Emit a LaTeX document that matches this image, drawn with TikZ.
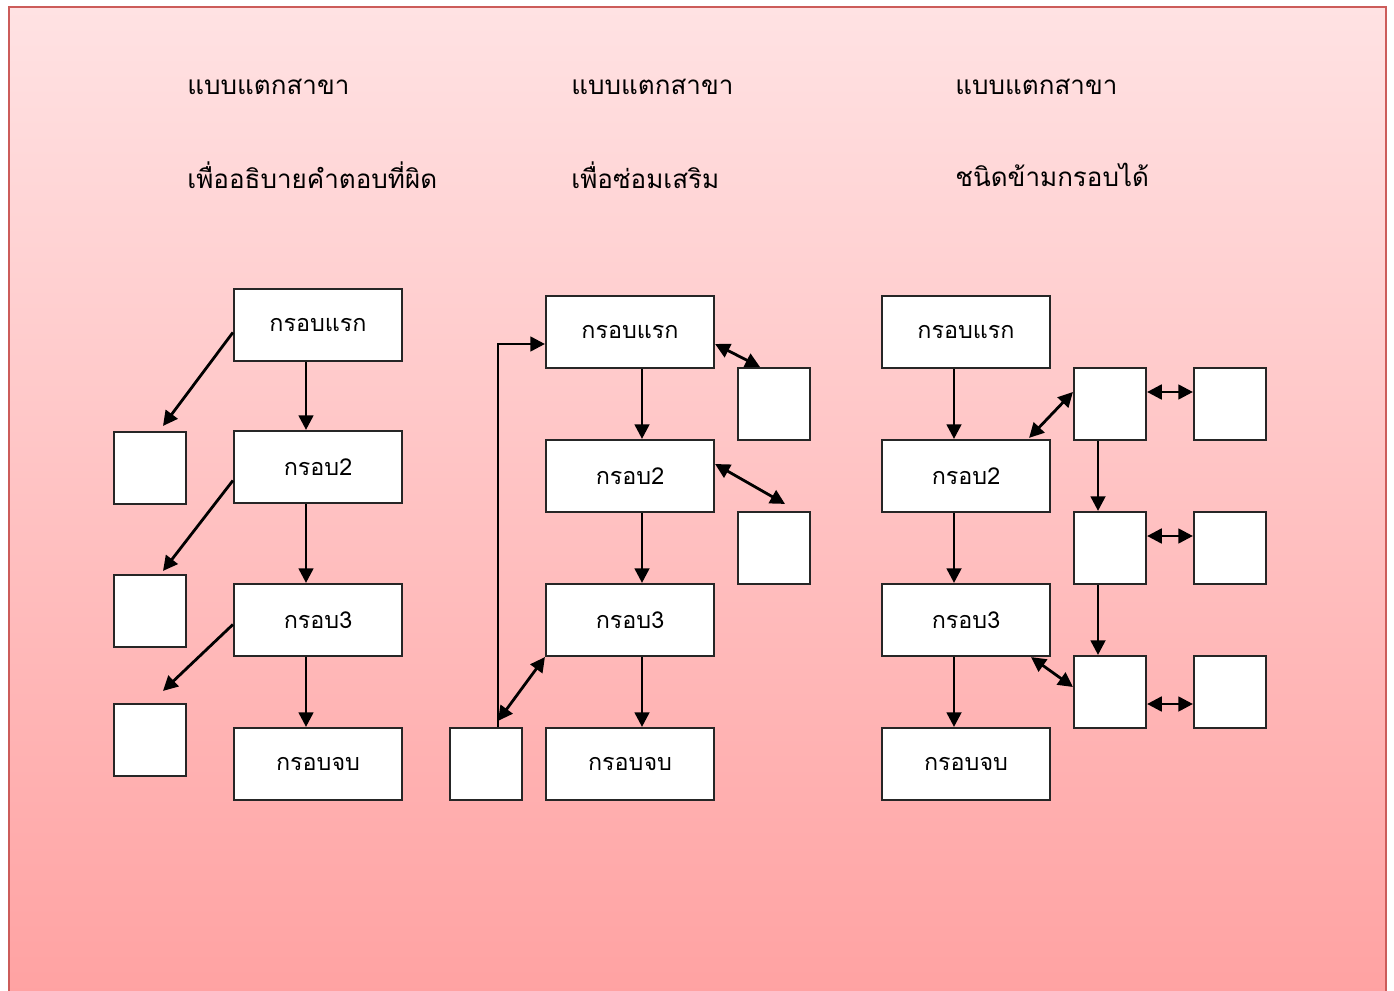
\documentclass[tikz,border=0pt]{standalone}
\usepackage{fontspec}
\newfontfamily\thaifont[Script=Thai]{Loma}
\usetikzlibrary{positioning,calc,arrows.meta}
\definecolor{bgtop}{RGB}{255,226,227}
\definecolor{bgbot}{RGB}{255,162,162}
\definecolor{framered}{RGB}{204,92,90}
\tikzset{
bigbox/.style={draw=black!85,line width=1.6pt,fill=white,minimum width=126pt,minimum height=54pt,inner sep=0pt,font=\thaifont\fontsize{17.5}{20}\selectfont},
smallbox/.style={draw=black!85,line width=1.6pt,fill=white,minimum width=54pt,minimum height=54pt,inner sep=0pt},
title/.style={anchor=west,inner sep=0pt,font=\thaifont\fontsize{19.5}{23}\selectfont}
}
\begin{document}
\begin{tikzpicture}[x=0.75pt,y=-0.75pt,>={Triangle[length=11pt,width=11pt]},line width=2.1pt]
\useasboundingbox (0,0) rectangle (1394,991);
\shade[top color=bgtop,bottom color=bgbot] (9,7) rectangle (1386,995);
\draw[framered,line width=1.2pt] (9,995) -- (9,7) -- (1386,7) -- (1386,995);
\foreach \x/\s [count=\i] in {186/เพื่ออธิบายคำตอบที่ผิด,570/เพื่อซ่อมเสริม,954/ชนิดข้ามกรอบได้}
{
\node[title] (head\i) at (\x,87) {แบบแตกสาขา};
\node[title] (sub\i) at (\x,175) {\s};
}
\foreach \y/\t [count=\i] in {325/กรอบแรก,467/กรอบ2,620/กรอบ3,764/กรอบจบ}
\node[bigbox] (a\i) at (318,\y) {\t};
\foreach \col/\x in {b/630,c/966}
\foreach \y/\t [count=\i] in {332/กรอบแรก,476/กรอบ2,620/กรอบ3,764/กรอบจบ}
\node[bigbox] (\col\i) at (\x,\y) {\t};
\foreach \y [count=\i] in {468,611,740}
\node[smallbox] (sa\i) at (150,\y) {};
\node[smallbox] (sb1) at (774,404) {};
\node[smallbox] (sb2) at (774,548) {};
\node[smallbox] (sb3) at (486,764) {};
\foreach \y [count=\i] in {404,548,692}
{
\node[smallbox] (m\i) at (1110,\y) {};
\node[smallbox] (n\i) at (1230,\y) {};
}
\foreach \col/\d in {a/-12,b/12,c/-12}
\foreach \i/\j in {1/2,2/3,3/4}
\draw[->] ($(\col\i.south)+(\d,0)$) -- ($(\col\j.north)+(\d,0)$);
\draw[->] (a1.185) -- ($(sa1.north)+(13,-5)$);
\draw[->] (a2.189) -- ($(sa2.north)+(13,-3)$);
\draw[->] (a3.183) -- ($(sa3.north)+(13,-12)$);
\draw[->] ($(sb3.north)+(12,0)$) |- ($(b1.west)+(0,12)$);
\draw[<->] ($(b1.east)+(0,12)$) -- ($(sb1.north)+(-14,0)$);
\draw[<->] ($(b2.east)+(0,-12)$) -- ($(sb2.north)+(11,-7)$);
\draw[<->] (b3.south west) -- ($(sb3.north)+(12,-6)$);
\draw[->] ($(m1.south)+(-12,0)$) -- ($(m2.north)+(-12,0)$);
\draw[->] ($(m2.south)+(-12,0)$) -- ($(m3.north)+(-12,0)$);
\foreach \i/\d in {1/-12,2/-12,3/12}
\draw[<->] ($(m\i.east)+(0,\d)$) -- ($(n\i.west)+(0,\d)$);
\draw[<->] ($(m1.west)+(0,-12)$) -- ($(c2.north east)+(-22,-1)$);
\draw[<->] ($(c3.south east)+(-20,0)$) -- ($(m3.west)+(0,-5)$);
\end{tikzpicture}
\end{document}
